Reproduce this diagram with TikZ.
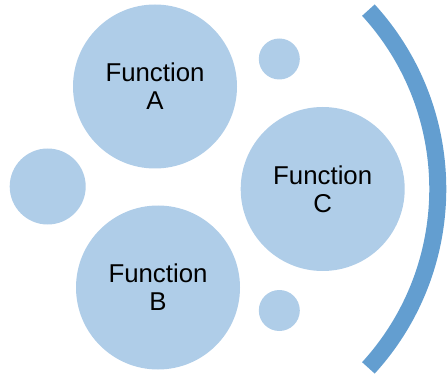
\documentclass[tikz,border=0pt]{standalone}
\usepackage{fontspec}
\setmainfont{Liberation Sans}
\definecolor{bubble}{RGB}{175,205,232}
\definecolor{arcblue}{RGB}{99,158,208}
\begin{document}
\begin{tikzpicture}[x=1pt,y=1pt,
  bigc/.style={circle,fill=bubble,inner sep=0pt,minimum size=164pt,align=center,
    font=\fontsize{25.8}{27.7}\selectfont},
  smallc/.style={circle,fill=bubble,inner sep=0pt,minimum size=#1}]
\useasboundingbox (0,0) rectangle (447,378);
\node[bigc] (fa) at (155,291.5) {Function\\A};
\node[bigc] (fc) at (322.7,189) {Function\\C};
\node[bigc] (fb) at (158,90.5) {Function\\B};
\node[smallc=76pt] (sl) at (47.7,191.5) {};
\node[smallc=41pt] (st) at (279.3,319) {};
\node[smallc=41pt] (sb) at (279.3,67.5) {};
\coordinate (arcctr) at (172.5,189);
\draw[arcblue,line width=17pt] (arcctr) ++(42.4:265.3) arc[start angle=42.4,end angle=-42.4,radius=265.3];
\end{tikzpicture}
\end{document}
